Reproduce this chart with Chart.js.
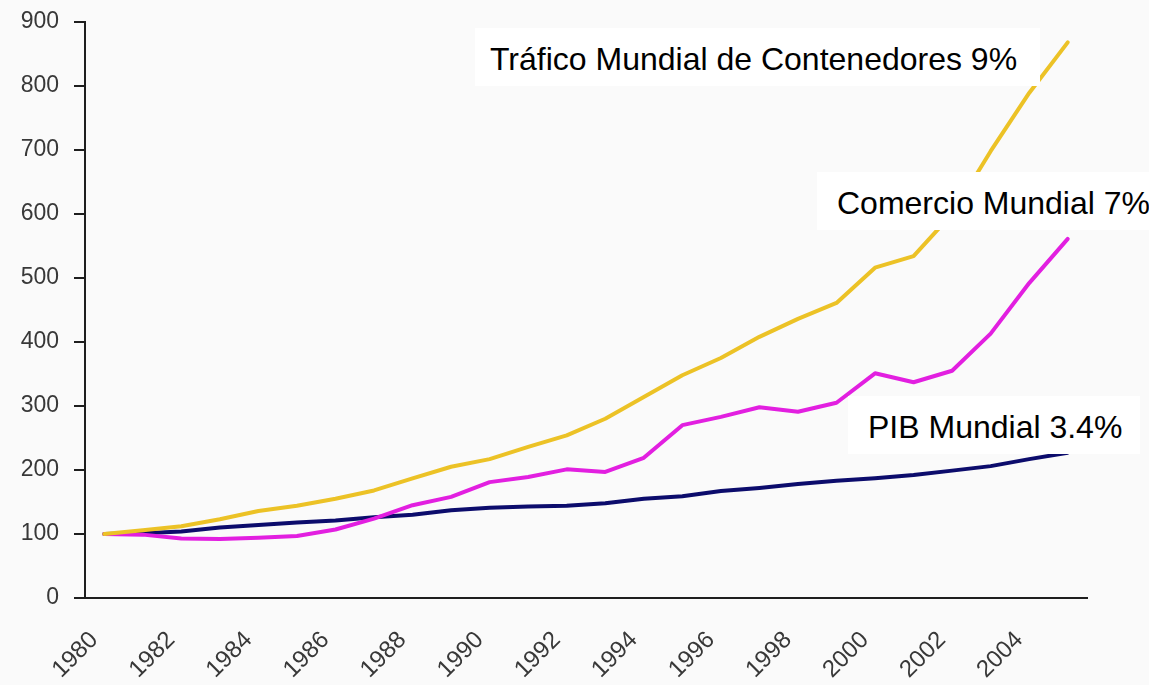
<!DOCTYPE html>
<html>
<head>
<meta charset="utf-8">
<script src="https://cdn.jsdelivr.net/npm/chart.js"></script>
<style>
  html, body { margin: 0; padding: 0; background: #fafafa; }
  #wrap { position: relative; width: 1149px; height: 685px; }
  canvas { position: absolute; left: 0; top: 0; }
  .tag {
    position: absolute;
    background: #ffffff;
    color: #000000;
    font-family: "Liberation Sans", Arial, sans-serif;
    font-size: 32px;
    line-height: 62px;
    height: 58px;
    white-space: nowrap;
    overflow: hidden;
    box-sizing: border-box;
  }
</style>
</head>
<body>
<div id="wrap">
  <canvas id="chart" width="1149" height="685"></canvas>
  <div class="tag" style="left:475px; top:28px; width:565px; padding-left:15px;">Tráfico Mundial de Contenedores 9%</div>
  <div class="tag" style="left:817px; top:172px; width:332px; padding-left:20px;">Comercio Mundial 7%</div>
  <div class="tag" style="left:848px; top:396px; width:292px; padding-left:20px;">PIB Mundial 3.4%</div>
</div>
<script>
// indices, base 1980 = 100
const years = ['1980', '1981', '1982', '1983', '1984', '1985', '1986', '1987', '1988', '1989',
               '1990', '1991', '1992', '1993', '1994', '1995', '1996', '1997', '1998', '1999',
               '2000', '2001', '2002', '2003', '2004', '2005'];
const contenedores = [100, 106, 112, 123, 136, 144, 155, 168, 187, 205,
                      217, 236, 254, 280, 314, 348, 375, 408, 436, 461,
                      516, 534, 600, 698, 789, 868];
const comercio = [100, 99, 93, 92, 94, 97, 107, 124, 145, 158,
                  181, 189, 201, 197, 219, 270, 283, 298, 291, 305,
                  351, 337, 355, 413, 492, 561];
const pib = [100, 101, 104, 110, 114, 118, 121, 126, 130, 137,
             141, 143, 144, 148, 155, 159, 167, 172, 178, 183,
             187, 192, 199, 206, 217, 227];
const yMin = 0;
const yMax = 900;
const yStep = 100;

const fontFamily = '"Liberation Sans", Arial, sans-serif';
const axisColor = '#1e1e1e';

const ctx = document.getElementById('chart').getContext('2d');
new Chart(ctx, {
    type: 'line',
    data: {
        labels: years,
        datasets: [
            { label: 'Tráfico Mundial de Contenedores', data: contenedores, borderColor: '#ecc226' },
            { label: 'Comercio Mundial', data: comercio, borderColor: '#e21fe0' },
            { label: 'PIB Mundial', data: pib, borderColor: '#0c0c6c' },
        ],
    },
    options: {
        responsive: false,
        animation: false,
        layout: { padding: { top: 21, right: 62, left: 0, bottom: 0 } },
        plugins: {
            legend: { display: false },
            tooltip: { enabled: false },
        },
        elements: {
            point: { radius: 0 },
            line: { borderWidth: 4, tension: 0, borderCapStyle: 'round', borderJoinStyle: 'round' },
        },
        scales: {
            x: {
                offset: true,
                grid: { display: false, drawTicks: false },
                border: { display: true, color: axisColor, width: 2 },
                ticks: {
                    autoSkip: false,
                    minRotation: 45,
                    maxRotation: 45,
                    padding: 28,
                    labelOffset: -10,
                    color: '#383838',
                    font: { family: fontFamily, size: 24 },
                    callback: (v, i) => (i % 2 === 0 && i < 25 ? years[i] : ''),
                },
                afterFit: (s) => { s.height = 87; },
            },
            y: {
                min: yMin,
                max: yMax,
                grid: { drawOnChartArea: false, drawTicks: true, tickLength: 11, color: axisColor, lineWidth: 2 },
                border: { display: true, color: axisColor, width: 2 },
                // small lineHeight keeps the top label from pushing the plot area down
                ticks: { stepSize: yStep, padding: 15, color: '#383838', font: { family: fontFamily, size: 23, lineHeight: 0.6 } },
                afterFit: (s) => { s.width = 85; },
            },
        },
    },
});
</script>
</body>
</html>
